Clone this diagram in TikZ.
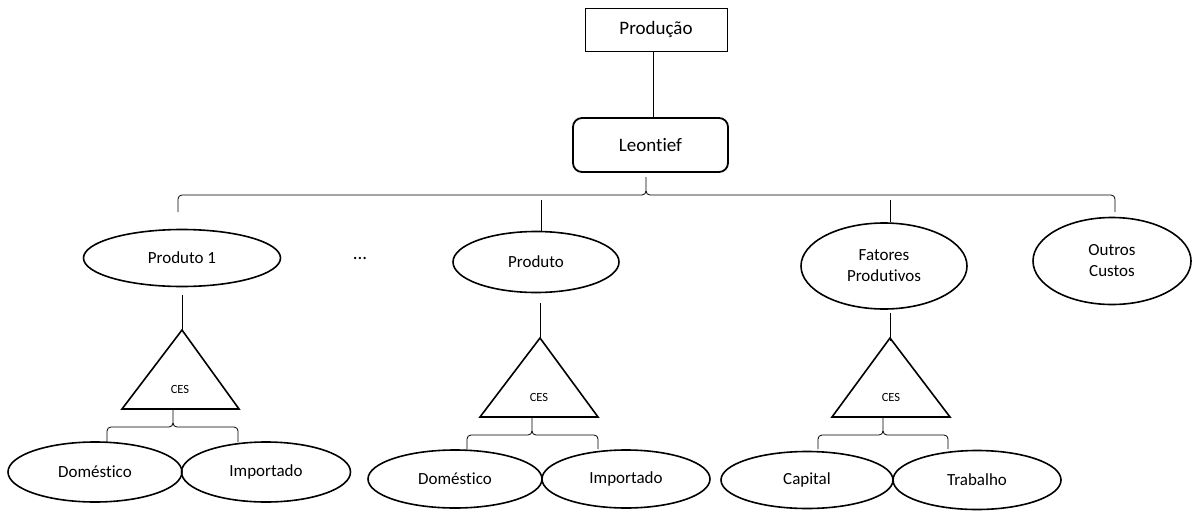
\documentclass[tikz,border=0pt]{standalone}
\usepackage{fontspec}
\setmainfont{Carlito}[Ligatures=NoCommon]
\usetikzlibrary{shapes.geometric}
\tikzset{
  thinln/.style={line width=0.8pt},
  ell/.style={ellipse, draw, line width=1.6pt, inner sep=0pt, align=center,
              font=\fontsize{17}{21}\selectfont},
  tri/.style={line width=1.6pt, line join=miter},
  ceslbl/.style={inner sep=0pt, font=\fontsize{12.5}{14}\selectfont},
}
\newcommand\mybrace[6]{% #1 left x, #2 tip x, #3 right x, #4 bar y, #5 tip y, #6 end y
  \draw[thinln] (#1,#6) -- (#1,{#4+4}) to[out=90,in=180] ({#1+4},#4) -- ({#2-4},#4)
     to[out=0,in=-90] (#2,{#4-4}) -- (#2,#5);
  \draw[thinln] (#2,{#4-4}) to[out=-90,in=180] ({#2+4},#4) -- ({#3-4},#4)
     to[out=0,in=90] (#3,{#4+4}) -- (#3,#6);
}
\begin{document}
\begin{tikzpicture}[x=1pt,y=-1pt]
\useasboundingbox (0,0) rectangle (1193,514);

% top
\node[draw, thinln, minimum width=142pt, minimum height=43pt,
      font=\fontsize{19}{22}\selectfont] (prod) at (656,29.5) {Produção};
\node[draw, rounded corners=9pt, line width=1.8pt, minimum width=155pt, minimum height=54pt,
      font=\fontsize{19}{22}\selectfont] (leo) at (650.5,145) {Leontief};
\draw[thinln] ([xshift=-3pt]prod.south) -- ([xshift=-3pt]prod.south |- leo.north);

% second level
\node[ell, minimum width=197pt, minimum height=57pt] (p1) at (182,258) {Produto 1};
\node[font=\fontsize{19}{22}\selectfont] (dots) at (360,258) {...};
\node[ell, minimum width=166pt, minimum height=61pt] (pr) at (536,262) {Produto};
\node[ell, minimum width=166pt, minimum height=86pt] (fat) at (884,266) {Fatores\\Produtivos};
\node[ell, minimum width=158pt, minimum height=87pt] (out) at (1112,261) {Outros\\Custos};

% big brace from Leontief
\mybrace{178}{646}{1115}{195}{177}{212}
\coordinate (bpr) at (541,200);
\coordinate (bfat) at (890,200);
\draw[thinln] (bpr) -- (bpr |- pr.north);
\draw[thinln] (bfat) -- (bfat |- fat.north);

% CES triangles
\coordinate (t1a) at (182,330); \coordinate (t1l) at (122,409); \coordinate (t1r) at (239,409);
\coordinate (t2a) at (540,338); \coordinate (t2l) at (480,417); \coordinate (t2r) at (598,417);
\coordinate (t3a) at (890,338); \coordinate (t3l) at (832,417); \coordinate (t3r) at (950,417);
\draw[tri] (t1a) -- (t1l) -- (t1r) -- cycle;
\draw[tri] (t2a) -- (t2l) -- (t2r) -- cycle;
\draw[tri] (t3a) -- (t3l) -- (t3r) -- cycle;
\node[ceslbl] (ces1) at (180,389) {CES};
\node[ceslbl] (ces2) at (539,397) {CES};
\node[ceslbl] (ces3) at (891,397) {CES};

\draw[thinln] ([yshift=-8pt]p1.south -| t1a) -- (t1a);
\draw[thinln] ([yshift=-10pt]pr.south -| t2a) -- ([yshift=-1pt]t2a);
\draw[thinln] ([yshift=-3pt]fat.south -| t3a) -- ([yshift=-3pt]t3a);

% small braces
\mybrace{107}{173}{238}{427}{409}{442}
\mybrace{467}{532}{598}{435}{417}{449}
\mybrace{818}{883}{948}{435}{417}{449}

% bottom ellipses
\node[ell, minimum width=174pt, minimum height=60pt] (d1) at (95,472) {Doméstico};
\node[ell, minimum width=169pt, minimum height=60pt] (i1) at (266,472) {Importado};
\node[ell, minimum width=174pt, minimum height=58pt] (d2) at (455,479) {Doméstico};
\node[ell, minimum width=168pt, minimum height=58pt] (i2) at (626,479) {Importado};
\node[ell, minimum width=172pt, minimum height=57pt] (c3) at (807,480) {Capital};
\node[ell, minimum width=168pt, minimum height=59pt] (t3) at (977,480) {Trabalho};
\end{tikzpicture}
\end{document}
